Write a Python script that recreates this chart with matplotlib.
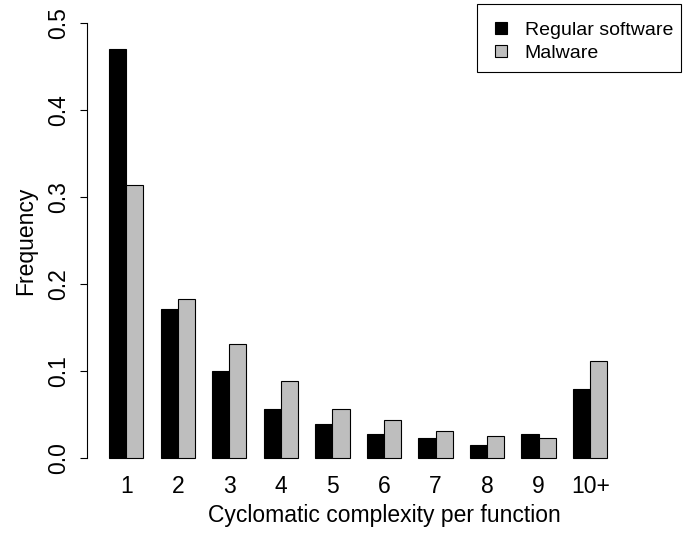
import matplotlib.pyplot as plt
import numpy as np
from matplotlib.lines import Line2D
from matplotlib.patches import Rectangle

plt.rcParams['font.family'] = ['Liberation Sans', 'DejaVu Sans']

# complexity categories
categories = ['1', '2', '3', '4', '5', '6', '7', '8', '9', '10+']
# frequency per category
regular = [0.470, 0.171, 0.100, 0.056, 0.039, 0.027, 0.023, 0.015, 0.027, 0.079]
malware = [0.314, 0.182, 0.131, 0.088, 0.056, 0.043, 0.031, 0.025, 0.023, 0.111]

W, H = 688, 533
fig = plt.figure(figsize=(W/100, H/100), dpi=100)
ax = fig.add_axes([87/W, 1 - 475/H, (681 - 87)/W, (475 - 5.8)/H])

# R style barplot layout: width 1, space 1 between groups
n = len(categories)
left = 1 + 3*np.arange(n)
ax.bar(left, regular, width=1, align='edge', color='black', edgecolor='black', linewidth=0.8)
ax.bar(left + 1, malware, width=1, align='edge', color='#bebebe', edgecolor='black', linewidth=0.8)

ax.set_xlim(1 - 0.04*32, 33 + 0.04*32)
ax.set_ylim(-0.02, 0.52)

for s in ['top', 'right', 'bottom']:
    ax.spines[s].set_visible(False)
ax.spines['left'].set_bounds(0, 0.5)
ax.spines['left'].set_linewidth(0.8)

ax.set_yticks([0, 0.1, 0.2, 0.3, 0.4, 0.5])
ax.set_yticklabels(['0.0', '0.1', '0.2', '0.3', '0.4', '0.5'], rotation=90, va='center')
ax.tick_params(axis='y', length=5, width=0.8, pad=7.5, labelsize=16.5)
ax.set_xticks(left + 1)
ax.set_xticklabels(categories)
ax.tick_params(axis='x', length=0, pad=0, labelsize=16.5)

ax.set_xlabel('Cyclomatic complexity per function', fontsize=16.5, labelpad=4)
ax.set_ylabel('Frequency', fontsize=16.5, labelpad=7)

# legend box drawn by hand, entries via an unframed legend
fig.patches.append(Rectangle((477/W, 1 - 72/H), (681 - 477)/W, (72 - 4)/H,
                             transform=fig.transFigure, fill=False,
                             edgecolor='black', linewidth=0.8))
handles = [Line2D([], [], ls='none', marker='s', markersize=9, markerfacecolor='black',
                  markeredgecolor='black', markeredgewidth=0.8),
           Line2D([], [], ls='none', marker='s', markersize=9, markerfacecolor='#bebebe',
                  markeredgecolor='black', markeredgewidth=0.8)]
fig.legend(handles, ['Regular software', 'Malware'], loc='upper left',
           bbox_to_anchor=(491/W, 1 - 21/H), fontsize=14, frameon=False,
           handlelength=1.0, handletextpad=0.74, labelspacing=0.28,
           borderpad=0, borderaxespad=0)

fig.savefig('out.png', dpi=100)
